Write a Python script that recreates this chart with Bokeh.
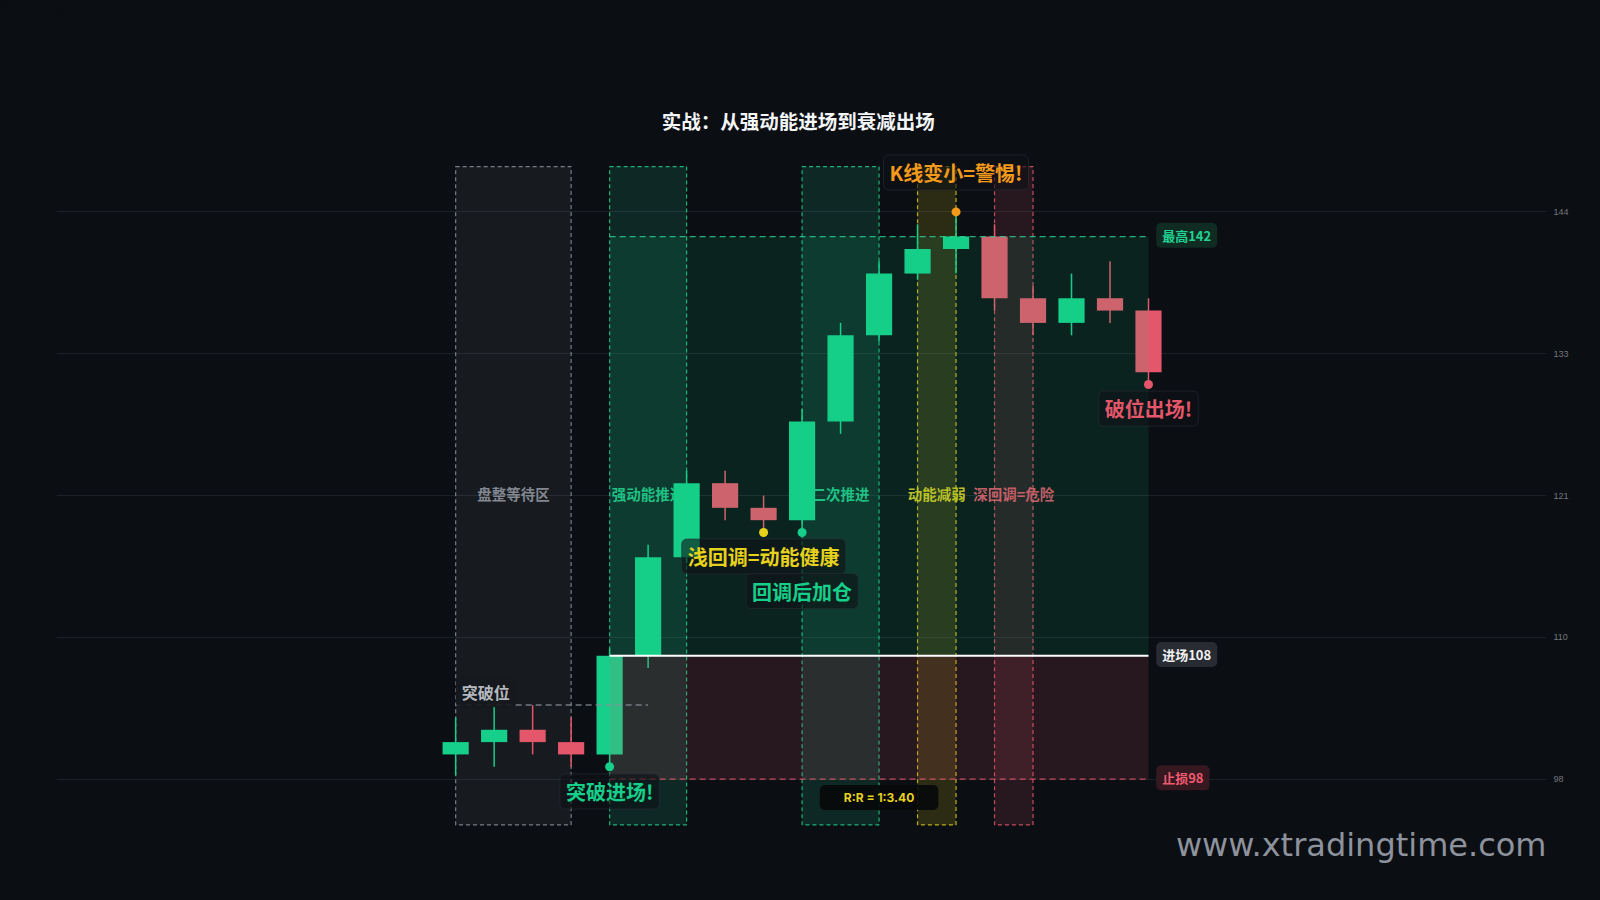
from bokeh.plotting import figure
from bokeh.models import Range1d, FixedTicker, ColumnDataSource, GlobalInlineStyleSheet
from bokeh.core.properties import value
from bokeh.embed import file_html
from bokeh.resources import INLINE

# candles (price units)
opens  = [100, 101, 102, 101, 100, 108, 116, 122, 120, 119, 127, 134, 139, 141, 142, 137, 135, 137, 136]
closes = [101, 102, 101, 100, 108, 116, 122, 120, 119, 127, 134, 139, 141, 142, 137, 135, 137, 136, 131]
highs  = [103, 103.9, 104, 103, 108.6, 117, 123, 123, 121, 128, 135, 140, 143, 144, 143, 138, 139, 140, 137]
lows   = [98.3, 99, 100, 99, 99, 107, 115.5, 119, 118, 118, 126, 133.5, 138.5, 139, 136, 134, 134, 135, 130]

# phases of the move: first bar, last bar, name
phase_names = ["盘整等待区", "强动能推进", "二次推进", "动能减弱", "深回调=危险"]
phase_first = [0, 4, 9, 12, 14]
phase_last  = [3, 6, 11, 13, 15]

# trade levels
breakout = 104
entry = 108
stop = 98
target = 142
entry_bar = 4
exit_bar = 18

tick_vals = [98, 109.5, 121, 132.5, 144]
tick_labels = ["98", "110", "121", "133", "144"]

title = "实战：从强动能进场到衰减出场"
watermark = "www.xtradingtime.com"

# colours
BG = "#0b0e13"
GREEN = "#16cf8a"
RED = "#e4566a"
YELLOW = "#e6d21c"
ORANGE = "#f39a1b"
GRAY = "#8a8f98"
CJK = value("Noto Sans CJK SC")

phase_colors = [GRAY, "#22c98a", "#22c98a", "#d9c81c", RED]
phase_alpha = [0.10, 0.15, 0.15, 0.16, 0.13]

n = len(opens)
xs = list(range(n))

p = figure(width=1584, height=884,
           x_range=Range1d(-10.37, 28.34), y_range=Range1d(89.45, 160.5),
           output_backend="svg", toolbar_location=None,
           x_axis_location=None, y_axis_location="right",
           min_border_left=56, min_border_right=38, min_border_top=8, min_border_bottom=0,
           background_fill_color=BG, border_fill_color=BG, outline_line_color=None,
           stylesheets=[GlobalInlineStyleSheet(css="body{background:%s;}" % BG)])

ticker = FixedTicker(ticks=tick_vals)
p.yaxis.ticker = ticker
p.ygrid.ticker = ticker
p.yaxis.major_label_overrides = {v: s for v, s in zip(tick_vals, tick_labels)}
p.yaxis.axis_line_color = None
p.yaxis.major_tick_line_color = None
p.yaxis.minor_tick_line_color = None
p.yaxis.major_tick_out = 0
p.yaxis.major_label_standoff = 7
p.yaxis.major_label_text_color = "#74777d"
p.yaxis.major_label_text_font_size = "9px"
p.xgrid.visible = False
p.ygrid.grid_line_color = "#1c2129"

# phase boxes, behind the candles
BOX_TOP = 147.68
BOX_BOTTOM = 94.28
LABEL_Y = 121.15
for name, a, b, c, al in zip(phase_names, phase_first, phase_last, phase_colors, phase_alpha):
    p.quad(left=a, right=b, bottom=BOX_BOTTOM, top=BOX_TOP, fill_color=c, fill_alpha=al,
           line_color=c, line_alpha=0.85, line_dash="4 3", line_width=1.2)
    p.text(x=[(a + b) / 2], y=[LABEL_Y], text=[name], text_color=c, text_alpha=0.95,
           text_font=CJK, text_font_style="bold", text_font_size="14.5px",
           text_align="center", text_baseline="middle")

# candles
colors = [GREEN if c >= o else RED for o, c in zip(opens, closes)]
src = ColumnDataSource(dict(x=xs, h=highs, l=lows,
                            top=[max(o, c) for o, c in zip(opens, closes)],
                            bottom=[min(o, c) for o, c in zip(opens, closes)],
                            color=colors))
p.segment(x0="x", y0="h", x1="x", y1="l", line_color="color", line_width=1.5, source=src)
p.vbar(x="x", width=0.68, top="top", bottom="bottom", fill_color="color", line_color=None, source=src)

# reward / risk zones over the candles
p.quad(left=entry_bar, right=exit_bar, bottom=entry, top=target, fill_color=GREEN, fill_alpha=0.11, line_color=None)
p.quad(left=entry_bar, right=exit_bar, bottom=stop, top=entry, fill_color=RED, fill_alpha=0.13, line_color=None)
p.segment(x0=[entry_bar], y0=[target], x1=[exit_bar], y1=[target], line_color="#2bd498",
          line_alpha=0.8, line_dash="6 4", line_width=1.3)
p.segment(x0=[entry_bar], y0=[entry], x1=[exit_bar], y1=[entry], line_color="white", line_width=2)
p.segment(x0=[entry_bar], y0=[stop], x1=[exit_bar], y1=[stop], line_color=RED,
          line_alpha=0.85, line_dash="6 4", line_width=1.3)
p.segment(x0=[0], y0=[breakout], x1=[5], y1=[breakout], line_color=GRAY,
          line_alpha=0.8, line_dash="6 4", line_width=1.5)

# marker dots
dot_x = [entry_bar, 8, 9, 13, exit_bar]
dot_y = [lows[entry_bar], lows[8], lows[9], highs[13], lows[exit_bar]]
p.scatter(x=dot_x, y=dot_y, size=9, color=[GREEN, YELLOW, GREEN, ORANGE, RED], line_color=None)


def note(x, y, txt, color, size="20px", align="center", bg="#0e1116", border="#2a2e35",
         pad=(6, 3), font=CJK, style="bold", bg_alpha=0.6):
    p.text(x=[x], y=[y], text=[txt], text_color=color, text_font=font,
           text_font_size=size, text_font_style=style, text_align=align, text_baseline="middle",
           background_fill_color=bg, background_fill_alpha=bg_alpha,
           border_line_color=border, border_line_alpha=0.6 if border else 0,
           padding=pad, border_radius=5)


# title
p.text(x=[(n - 1) / 2 - 0.1], y=[151.4], text=[title], text_color="#f4f5f7", text_font=CJK,
       text_font_style="bold", text_font_size="19.5px", text_align="center", text_baseline="middle")

# callouts
note(13, 147.2, "K线变小=警惕!", ORANGE)
note(exit_bar, lows[exit_bar] - 1.95, "破位出场!", RED)
note(8, lows[8] - 1.95, "浅回调=动能健康", YELLOW)
note(9, lows[9] - 4.75, "回调后加仓", GREEN)
note(entry_bar, lows[entry_bar] - 2.0, "突破进场!", GREEN)
note(0, breakout + 1.05, "突破位", "#b4b8bf", size="16px", align="left", bg="#15181d", border=None, bg_alpha=0.9)
note(11, 96.5, "R:R = %s" % ("1:%.2f" % ((target - entry) / (entry - stop))), YELLOW, size="12px",
     bg="#07080a", border=None, pad=(24, 5), font=value("Inter"), bg_alpha=0.9)

# level tags on the right
note(exit_bar + 0.2, target + 0.1, "最高%d" % target, "#22d393", size="13px", align="left", bg="#0f2f25", border=None, bg_alpha=0.9)
note(exit_bar + 0.2, entry + 0.1, "进场%d" % entry, "#f2f2f2", size="13px", align="left", bg="#2b2f36", border=None, bg_alpha=0.9)
note(exit_bar + 0.2, stop + 0.1, "止损%d" % stop, "#ef5a6f", size="13px", align="left", bg="#3b1a22", border=None, bg_alpha=0.9)

# watermark
p.text(x=[p.x_range.end], y=[92.65], text=[watermark], text_color="#8d929c", text_font=value("DejaVu Sans"),
       text_font_size="32px", text_align="right", text_baseline="middle")

open("out.html", "w").write(file_html(p, INLINE))
